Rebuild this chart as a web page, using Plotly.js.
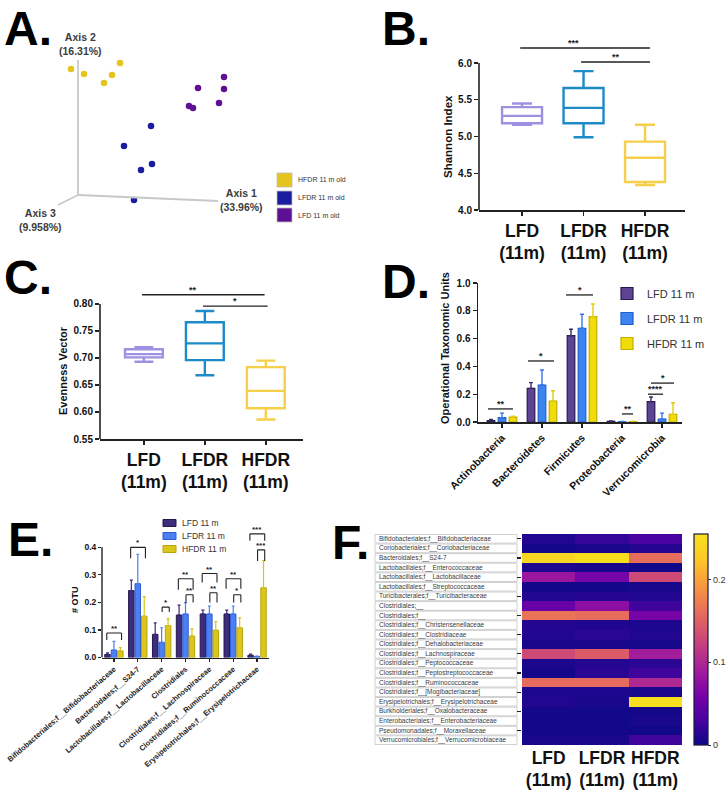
<!DOCTYPE html>
<html><head><meta charset="utf-8">
<script src="https://cdn.plot.ly/plotly-3.0.1.min.js"></script>
<style>html,body{margin:0;padding:0;background:#fff}#chart{width:727px;height:793px}</style>
</head><body><div id="chart"></div>
<script>
// ================= DATA =================
const groups = ['LFD', 'LFDR', 'HFDR'];
const groupTicks = ['LFD<br>(11m)', 'LFDR<br>(11m)', 'HFDR<br>(11m)'];

// A. PCoA projection (relative projected units)
const pcoaHFDR_x = [-7, 6, 26, 34, 42];
const pcoaHFDR_y = [126, 121, 112, 120, 132];
const pcoaLFDR_x = [73, 46, 74, 63, 56];
const pcoaLFDR_y = [69, 49, 31, 25, -5];
const pcoaLFD_x = [146, 120, 146, 111, 115, 141];
const pcoaLFD_y = [118, 107, 106, 89, 87, 92];
const pcoaLegend = ['HFDR 11 m old', 'LFDR 11 m old', 'LFD 11 m old'];
const pcoaAxisLabels = ['Axis 1<br>(33.96%)', 'Axis 2<br>(16.31%)', 'Axis 3<br>(9.958%)'];

// B. Shannon index (LFD, LFDR, HFDR)
const shannonMin = [5.16, 4.99, 4.34];
const shannonQ1 = [5.18, 5.18, 4.38];
const shannonMed = [5.28, 5.39, 4.71];
const shannonQ3 = [5.40, 5.66, 4.93];
const shannonMax = [5.45, 5.89, 5.16];

// C. Evenness vector
const evenMin = [0.693, 0.668, 0.586];
const evenQ1 = [0.701, 0.696, 0.607];
const evenMed = [0.707, 0.727, 0.639];
const evenQ3 = [0.716, 0.766, 0.683];
const evenMax = [0.720, 0.787, 0.695];

// D. Phyla OTU
const phyla = ['Actinobacteria', 'Bacteroidetes', 'Firmicutes', 'Proteobacteria', 'Verrucomicrobia'];
const phylaLFD = [0.010, 0.242, 0.621, 0.005, 0.146];
const phylaLFDerr = [0.008, 0.041, 0.046, 0.002, 0.034];
const phylaLFDR = [0.031, 0.266, 0.674, 0.002, 0.020];
const phylaLFDRerr = [0.033, 0.108, 0.101, 0.002, 0.044];
const phylaHFDR = [0.035, 0.151, 0.758, 0.003, 0.055];
const phylaHFDRerr = [0.006, 0.074, 0.091, 0.002, 0.084];
const seriesNames = ['LFD 11 m', 'LFDR 11 m', 'HFDR 11 m'];

// E. Families OTU
const families = ['Bifidobacteriales;f__Bifidobacteriaceae', 'Bacteroidales;f__S24-7', 'Lactobacillales;f__Lactobacillaceae',
  'Clostridiales', 'Clostridiales;f__Lachnospiraceae', 'Clostridiales;f__Ruminococcaceae', 'Erysipelotrichales;f__Erysipelotrichaceae'];
const famLFD = [0.011, 0.243, 0.084, 0.154, 0.158, 0.158, 0.008];
const famLFDerr = [0.006, 0.038, 0.042, 0.036, 0.014, 0.014, 0.004];
const famLFDR = [0.027, 0.268, 0.055, 0.158, 0.158, 0.158, 0.004];
const famLFDRerr = [0.032, 0.107, 0.053, 0.041, 0.029, 0.029, 0.001];
const famHFDR = [0.024, 0.150, 0.116, 0.078, 0.099, 0.108, 0.253];
const famHFDRerr = [0.012, 0.071, 0.025, 0.026, 0.031, 0.036, 0.099];

// F. Heatmap
const taxa = ['Bifidobacteriales;f__Bifidobacteriaceae', 'Coriobacteriales;f__Coriobacteriaceae', 'Bacteroidales;f__S24-7',
  'Lactobacillales;f__Enterococcaceae', 'Lactobacillales;f__Lactobacillaceae', 'Lactobacillales;f__Streptococcaceae',
  'Turicibacterales;f__Turicibacteraceae', 'Clostridiales;__', 'Clostridiales;f__', 'Clostridiales;f__Christensenellaceae',
  'Clostridiales;f__Clostridiaceae', 'Clostridiales;f__Dehalobacteriaceae', 'Clostridiales;f__Lachnospiraceae',
  'Clostridiales;f__Peptococcaceae', 'Clostridiales;f__Peptostreptococcaceae', 'Clostridiales;f__Ruminococcaceae',
  'Clostridiales;f__[Mogibacteriaceae]', 'Erysipelotrichales;f__Erysipelotrichaceae', 'Burkholderiales;f__Oxalobacteraceae',
  'Enterobacteriales;f__Enterobacteriaceae', 'Pseudomonadales;f__Moraxellaceae', 'Verrucomicrobiales;f__Verrucomicrobiaceae'];
const heatLFD  = [0.010, 0.004, 0.242, 0.008, 0.084, 0.004, 0.010, 0.050, 0.165, 0.012, 0.010, 0.006, 0.130, 0.008, 0.004, 0.158, 0.008, 0.010, 0.004, 0.003, 0.004, 0.006];
const heatLFDR = [0.020, 0.006, 0.255, 0.006, 0.060, 0.004, 0.012, 0.075, 0.160, 0.010, 0.014, 0.006, 0.145, 0.012, 0.015, 0.158, 0.008, 0.006, 0.003, 0.003, 0.003, 0.006];
const heatHFDR = [0.030, 0.012, 0.160, 0.003, 0.130, 0.006, 0.010, 0.025, 0.060, 0.008, 0.010, 0.005, 0.090, 0.015, 0.025, 0.100, 0.006, 0.252, 0.004, 0.006, 0.002, 0.025];

// ================= HELPERS =================
const W = 727, H = 793;
const FONT = 'Liberation Sans, Arial, sans-serif';
const fx = p => p / W;
const fy = p => 1 - p / H;
const dom = (a, b) => [a / W, b / W];
const domY = (top, bottom) => [1 - bottom / H, 1 - top / H];
function ann(text, xpx, ypx, o) {
  o = o || {};
  return {text: text, x: fx(xpx), y: fy(ypx), xref: 'paper', yref: 'paper', showarrow: false,
    xanchor: o.xanchor || 'center', yanchor: o.yanchor || 'middle', textangle: o.angle || 0,
    font: {family: FONT, size: o.size || 10, weight: o.weight || 'normal', color: o.color || '#111'}};
}
function star(text, xa, ya, x, y, size) {
  return {text: text, xref: xa, yref: ya, x: x, y: y, showarrow: false, xanchor: 'center', yanchor: 'bottom', yshift: -2,
    font: {family: FONT, size: size || 9, weight: 'bold', color: '#222'}};
}
function ln(xa, ya, x0, y0, x1, y1, w, c) {
  return {type: 'line', xref: xa, yref: ya, x0: x0, y0: y0, x1: x1, y1: y1, line: {color: c || '#222', width: w || 1.3}};
}

const traces = [];
const shapes = [];
const annotations = [];

// ================= A =================
const pcoaColors = ['#e6c41e', '#1c1ca0', '#5e0f94'];
[[pcoaHFDR_x, pcoaHFDR_y], [pcoaLFDR_x, pcoaLFDR_y], [pcoaLFD_x, pcoaLFD_y]].forEach((d, k) => {
  traces.push({type: 'scatter', mode: 'markers', xaxis: 'x', yaxis: 'y', x: d[0], y: d[1], name: pcoaLegend[k],
    marker: {color: pcoaColors[k], size: 6.5}, showlegend: false, hoverinfo: 'skip'});
});
shapes.push(ln('x', 'y', 0, 0, 0, 135, 1.8, '#c8c8c8'));
shapes.push(ln('x', 'y', 0, 0, 140, -6, 1.8, '#c8c8c8'));
shapes.push(ln('x', 'y', 0, 0, -20, -10, 1.8, '#c8c8c8'));
annotations.push(ann(pcoaAxisLabels[1], 80, 44, {size: 10.5, weight: 'bold', color: '#3c3c3c'}));
annotations.push(ann(pcoaAxisLabels[0], 241, 200, {size: 10.5, weight: 'bold', color: '#3c3c3c'}));
annotations.push(ann(pcoaAxisLabels[2], 40, 220, {size: 10.5, weight: 'bold', color: '#3c3c3c'}));
const legABox = [[173, 187], [191, 205], [208, 222]];
pcoaLegend.forEach((t, k) => {
  shapes.push({type: 'rect', xref: 'paper', yref: 'paper', x0: fx(277), x1: fx(292), y0: fy(legABox[k][1]), y1: fy(legABox[k][0]),
    fillcolor: pcoaColors[k], line: {color: '#bdbdbd', width: 0.8}});
  annotations.push(ann(t, 296, (legABox[k][0] + legABox[k][1]) / 2, {xanchor: 'left', size: 7, color: '#333'}));
});

// ================= B =================
const boxColors = ['#a090e2', '#1c8bc8', '#f6d04a'];
groups.forEach((g, i) => {
  traces.push({type: 'box', xaxis: 'x2', yaxis: 'y2', x: [g], q1: [shannonQ1[i]], median: [shannonMed[i]], q3: [shannonQ3[i]],
    lowerfence: [shannonMin[i]], upperfence: [shannonMax[i]], width: 0.65, whiskerwidth: 0.5,
    line: {color: boxColors[i], width: 2.4}, fillcolor: 'rgba(255,255,255,0)', boxpoints: false, showlegend: false, hoverinfo: 'skip'});
});
shapes.push({type: 'line', xref: 'x2 domain', yref: 'y2', x0: 0, x1: 0, y0: 4.0, y1: 6.0, line: {color: '#222', width: 1.6}});
shapes.push(ln('x2', 'y2', -0.03, 6.204, 2.08, 6.204));
shapes.push(ln('x2', 'y2', 0.96, 6.014, 2.08, 6.014));
annotations.push(star('***', 'x2', 'y2', 0.83, 6.204));
annotations.push(star('**', 'x2', 'y2', 1.53, 6.014));
annotations.push(ann('Shannon Index', 448, 137, {angle: -90, size: 11.5, weight: 'bold'}));

// ================= C =================
groups.forEach((g, i) => {
  traces.push({type: 'box', xaxis: 'x3', yaxis: 'y3', x: [g], q1: [evenQ1[i]], median: [evenMed[i]], q3: [evenQ3[i]],
    lowerfence: [evenMin[i]], upperfence: [evenMax[i]], width: 0.62, whiskerwidth: 0.5,
    line: {color: boxColors[i], width: 2.4}, fillcolor: 'rgba(255,255,255,0)', boxpoints: false, showlegend: false, hoverinfo: 'skip'});
});
shapes.push({type: 'line', xref: 'x3 domain', yref: 'y3', x0: 0, x1: 0, y0: 0.55, y1: 0.80, line: {color: '#222', width: 1.6}});
shapes.push(ln('x3', 'y3', -0.03, 0.817, 1.98, 0.817));
shapes.push(ln('x3', 'y3', 0.97, 0.796, 2.03, 0.796));
annotations.push(star('**', 'x3', 'y3', 0.8, 0.817));
annotations.push(star('*', 'x3', 'y3', 1.5, 0.796));
annotations.push(ann('Evenness Vector', 63, 371, {angle: -90, size: 11, weight: 'bold'}));

// ================= D =================
const dFill = ['#5d4394', '#3c84f0', '#f0dc08'];
const dLine = ['#2a1a50', '#2160cc', '#c4ae00'];
const dErr = ['#3a2868', '#3a76e4', '#e2cd10'];
const dOffset = [-0.37, -0.095, 0.18];
[[phylaLFD, phylaLFDerr], [phylaLFDR, phylaLFDRerr], [phylaHFDR, phylaHFDRerr]].forEach((d, k) => {
  traces.push({type: 'bar', xaxis: 'x4', yaxis: 'y4', x: phyla, y: d[0], name: seriesNames[k], width: 0.19, offset: dOffset[k],
    marker: {color: dFill[k], line: {color: dLine[k], width: 1.2}},
    error_y: {type: 'data', symmetric: false, array: d[1], arrayminus: d[1].map(() => 0), color: dErr[k], thickness: 1.4, width: 2},
    legend: 'legend', legendgroup: 'd' + k, showlegend: true, hoverinfo: 'skip'});
});
[[-0.35, 0.275, 0.094, '**'], [0.65, 1.3, 0.439, '*'], [1.6, 2.275, 0.914, '*'], [3.0, 3.275, 0.058, '**'],
 [3.725, 4.3, 0.28, '*'], [3.65, 4.025, 0.2, '****']].forEach(s => {
  shapes.push(ln('x4', 'y4', s[0], s[2], s[1], s[2]));
  annotations.push(star(s[3], 'x4', 'y4', (s[0] + s[1]) / 2, s[2], 9));
});
annotations.push(ann('Operational Taxonomic Units', 445, 348, {angle: -90, size: 11, weight: 'bold'}));

// ================= E =================
const eFill = ['#3f2c7e', '#4d7ef2', '#dcc61c'];
const eLine = ['#24174a', '#2e5fd0', '#b8a510'];
const eErr = ['#3b2a78', '#4a7cf0', '#d8c41a'];
const eOffset = [-0.385, -0.115, 0.155];
[[famLFD, famLFDerr], [famLFDR, famLFDRerr], [famHFDR, famHFDRerr]].forEach((d, k) => {
  traces.push({type: 'bar', xaxis: 'x5', yaxis: 'y5', x: families, y: d[0], name: seriesNames[k], width: 0.23, offset: eOffset[k],
    marker: {color: eFill[k], line: {color: eLine[k], width: 1}},
    error_y: {type: 'data', symmetric: false, array: d[1], arrayminus: d[1].map(() => 0), color: eErr[k], thickness: 1.2, width: 1.5},
    showlegend: false, hoverinfo: 'skip'});
});
shapes.push({type: 'line', xref: 'x5 domain', yref: 'y5', x0: 0, x1: 0, y0: 0, y1: 0.4, line: {color: '#222', width: 1.4}});
// brackets: [group, kind(outer/inner), top, leg, label]
[[0, 'o', 0.089, 0.064, '**'], [1, 'o', 0.40, 0.36, '*'], [2, 'i', 0.183, 0.165, '*'],
 [3, 'o', 0.286, 0.246, '**'], [3, 'i', 0.228, 0.200, '**'],
 [4, 'o', 0.305, 0.272, '**'], [4, 'i', 0.235, 0.200, '**'],
 [5, 'o', 0.286, 0.250, '**'], [5, 'i', 0.228, 0.200, '*'],
 [6, 'o', 0.449, 0.424, '***'], [6, 'i', 0.391, 0.350, '***']].forEach(b => {
  const x0 = b[0] + (b[1] === 'o' ? -0.3 : 0.02), x1 = b[0] + 0.32;
  shapes.push(ln('x5', 'y5', x0, b[2], x1, b[2], 1.1));
  shapes.push(ln('x5', 'y5', x0, b[2], x0, b[3], 1.1));
  shapes.push(ln('x5', 'y5', x1, b[2], x1, b[3], 1.1));
  annotations.push(star(b[4], 'x5', 'y5', (x0 + x1) / 2, b[2], 8));
});
annotations.push(ann('# OTU', 75, 600, {angle: -90, size: 9, weight: 'bold'}));
const legEy = [523, 536, 549];
seriesNames.forEach((t, k) => {
  shapes.push({type: 'rect', xref: 'paper', yref: 'paper', x0: fx(163), x1: fx(176), y0: fy(legEy[k] + 3.5), y1: fy(legEy[k] - 3.5),
    fillcolor: eFill[k], line: {color: eLine[k], width: 1}});
  annotations.push(ann(t, 180, legEy[k], {xanchor: 'left', size: 8.5, color: '#333'}));
});

// ================= F =================
const plasma = [[0, '#0d0887'], [0.111, '#46039f'], [0.222, '#7201a8'], [0.333, '#9c179e'], [0.444, '#bd3786'],
  [0.555, '#d8576b'], [0.666, '#ed7953'], [0.777, '#fb9f3a'], [0.888, '#fdca26'], [1, '#f6e01e']];
traces.push({type: 'heatmap', xaxis: 'x6', yaxis: 'y6', x: groups, y: taxa,
  z: taxa.map((_, i) => [heatLFD[i], heatLFDR[i], heatHFDR[i]]), zmin: 0, zmax: 0.255, colorscale: plasma,
  hoverinfo: 'skip',
  colorbar: {x: fx(694), xanchor: 'left', y: fy(639.5), yanchor: 'middle', len: 211, lenmode: 'pixels', thickness: 14,
    thicknessmode: 'pixels', xpad: 0, ypad: 0, outlinewidth: 1.2, outlinecolor: '#1a1a3a', tickvals: [0, 0.1, 0.2],
    ticktext: ['0', '0.1', '0.2'], ticks: 'outside', ticklen: 3, tickcolor: '#333', tickfont: {family: FONT, size: 9, color: '#333'}}});
taxa.forEach((t, i) => {
  shapes.push({type: 'rect', xref: 'paper', yref: 'y6', x0: fx(375), x1: fx(517), y0: i - 0.45, y1: i + 0.45,
    fillcolor: '#ffffff', line: {color: '#c4c4c4', width: 0.8}, layer: 'below'});
  annotations.push({text: t, xref: 'paper', yref: 'y6', x: fx(377), y: i, xanchor: 'left', yanchor: 'middle', showarrow: false,
    font: {family: FONT, size: 6.5, color: '#3a3a3a'}});
});

// ================= Letters =================
[['A.', 2, 0], ['B.', 380, 0], ['C.', 2, 249], ['D.', 380, 253], ['E.', 6, 511], ['F.', 330, 514]].forEach(L => {
  annotations.push(ann(L[0], L[1], L[2], {xanchor: 'left', yanchor: 'top', size: 48, weight: 'bold', color: '#000'}));
});

// ================= LAYOUT =================
const catTickFont = {family: FONT, size: 17.5, weight: 'bold', color: '#111'};
const yTickFont = {family: FONT, size: 10, weight: 'bold', color: '#111'};
const layout = {
  width: W, height: H, margin: {l: 0, r: 0, t: 0, b: 0}, paper_bgcolor: '#fff', plot_bgcolor: 'rgba(0,0,0,0)',
  font: {family: FONT, color: '#111'}, hovermode: false, barmode: 'overlay', boxmode: 'overlay',
  xaxis: {domain: dom(0, 300), range: [-78, 222], visible: false, fixedrange: true},
  yaxis: {domain: domY(30, 240), range: [-45, 165], visible: false, fixedrange: true},
  xaxis2: {domain: dom(479, 685), anchor: 'y2', type: 'category', range: [-0.7, 2.65], tickvals: groups, ticktext: groupTicks,
    tickfont: catTickFont, showline: true, linewidth: 1.6, linecolor: '#222', ticks: 'outside', ticklen: 4, tickwidth: 1.4,
    tickcolor: '#222', showgrid: false, zeroline: false},
  yaxis2: {domain: domY(40, 210), anchor: 'x2', range: [4.0, 6.313], tick0: 4, dtick: 0.5, tickformat: '.1f', tickfont: yTickFont,
    ticks: 'outside', ticklen: 4, tickwidth: 1.4, tickcolor: '#222', showline: false, showgrid: false, zeroline: false},
  xaxis3: {domain: dom(100, 303), anchor: 'y3', type: 'category', range: [-0.72, 2.61], tickvals: groups, ticktext: groupTicks,
    tickfont: catTickFont, showline: true, linewidth: 1.6, linecolor: '#222', ticks: 'outside', ticklen: 4, tickwidth: 1.4,
    tickcolor: '#222', showgrid: false, zeroline: false},
  yaxis3: {domain: domY(285, 439), anchor: 'x3', range: [0.55, 0.835], tick0: 0.55, dtick: 0.05, tickformat: '.2f', tickfont: yTickFont,
    ticks: 'outside', ticklen: 4, tickwidth: 1.4, tickcolor: '#222', showline: false, showgrid: false, zeroline: false},
  xaxis4: {domain: dom(478, 682), anchor: 'y4', type: 'category', range: [-0.6, 4.5], tickangle: -45,
    tickfont: {family: FONT, size: 10.5, weight: 'bold', color: '#111'}, showline: true, linewidth: 1.5, linecolor: '#222',
    ticks: 'outside', ticklen: 4, tickwidth: 1.3, tickcolor: '#222', showgrid: false, zeroline: false},
  yaxis4: {domain: domY(283, 422), anchor: 'x4', range: [0, 1.0], tick0: 0, dtick: 0.2, tickformat: '.1f', tickfont: yTickFont,
    ticks: 'outside', ticklen: 4, tickwidth: 1.3, tickcolor: '#222', showline: true, linewidth: 1.5, linecolor: '#222',
    showgrid: false, zeroline: false},
  xaxis5: {domain: dom(102, 269), anchor: 'y5', type: 'category', range: [-0.5, 6.5], tickangle: -41,
    tickfont: {family: FONT, size: 7.5, weight: 'bold', color: '#222'}, showline: true, linewidth: 1.4, linecolor: '#222',
    ticks: 'outside', ticklen: 3, tickwidth: 1.2, tickcolor: '#222', showgrid: false, zeroline: false},
  yaxis5: {domain: domY(530, 657.5), anchor: 'x5', range: [0, 0.463], tick0: 0, dtick: 0.1, tickformat: '.1f',
    tickfont: {family: FONT, size: 8.5, weight: 'bold', color: '#111'}, ticks: 'outside', ticklen: 3, tickwidth: 1.2,
    tickcolor: '#222', showline: false, showgrid: false, zeroline: false},
  xaxis6: {domain: dom(522, 682), anchor: 'y6', type: 'category', range: [-0.5, 2.5], tickvals: groups, ticktext: groupTicks,
    tickfont: catTickFont, ticks: '', showline: false, showgrid: false, zeroline: false},
  yaxis6: {domain: domY(534, 745), anchor: 'x6', type: 'category', range: [21.5, -0.5], showticklabels: false,
    ticks: 'outside', ticklen: 4, tickwidth: 1.2, tickcolor: '#222', showline: false, showgrid: false, zeroline: false},
  legend: {x: fx(607), y: fy(279), xanchor: 'left', yanchor: 'top', font: {family: FONT, size: 11, color: '#333'},
    tracegroupgap: 6, traceorder: 'grouped', bgcolor: 'rgba(0,0,0,0)', itemwidth: 30},
  shapes: shapes,
  annotations: annotations
};
Plotly.newPlot('chart', traces, layout, {staticPlot: true, displayModeBar: false});
</script>
</body></html>
